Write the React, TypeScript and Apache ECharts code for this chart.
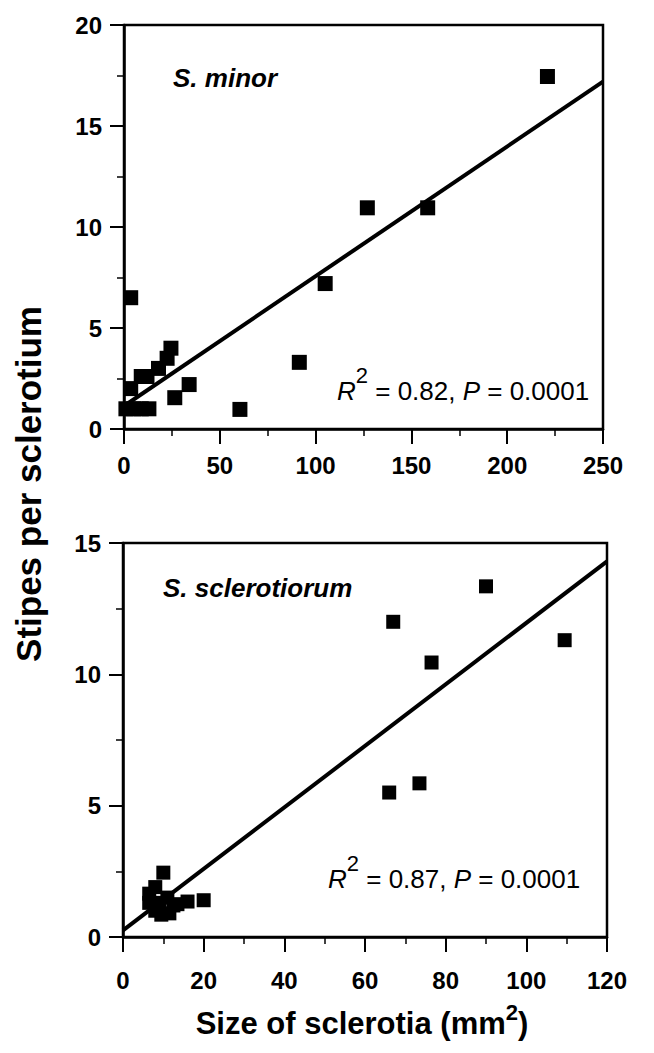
import React, { useEffect, useRef } from "react";
import * as echarts from "echarts";

// ---- Data: S. minor (top panel) ----
const minorSize = [1, 5, 9, 13, 3.5, 9, 12, 18, 22.5, 24.5, 26.5, 34, 3.5, 60.5, 91.5, 105, 127, 158.5, 221];
const minorStipes = [1.0, 1.0, 1.0, 1.0, 2.0, 2.6, 2.6, 3.0, 3.5, 4.0, 1.55, 2.2, 6.5, 0.97, 3.3, 7.2, 10.95, 10.95, 17.45];
const minorFitX = [0, 250];
const minorFitY = [1.14, 17.2];

// ---- Data: S. sclerotiorum (bottom panel) ----
const sclerSize = [6.5, 6.5, 8, 8, 9.5, 11.5, 12.5, 11, 9, 13.5, 16, 20, 10, 66, 73.5, 67, 76.5, 90, 109.5];
const sclerStipes = [1.3, 1.65, 1.9, 1.0, 0.85, 0.9, 1.2, 1.5, 1.3, 1.25, 1.35, 1.4, 2.45, 5.5, 5.85, 12.0, 10.45, 13.35, 11.3];
const sclerFitX = [0, 120];
const sclerFitY = [0.25, 14.3];

// ---- Axis ticks ----
const topXTicks = { min: 0, max: 250, interval: 50 };
const topYTicks = { min: 0, max: 20, interval: 5 };
const botXTicks = { min: 0, max: 120, interval: 20 };
const botYTicks = { min: 0, max: 15, interval: 5 };

const minorLabel = "S. minor";
const sclerLabel = "S. sclerotiorum";
const minorStats = ["0.82", "0.0001"];
const sclerStats = ["0.87", "0.0001"];
const xTitle = "Size of sclerotia (mm";
const yTitle = "Stipes per sclerotium";

const FONT = "'Liberation Sans', Arial, Helvetica, sans-serif";

function pairs(xs: number[], ys: number[]) {
  return xs.map((x, i) => [x, ys[i]]);
}

function xAxis(gridIndex: number, t: { min: number; max: number; interval: number }, margin: number) {
  return {
    type: "value",
    gridIndex,
    min: t.min,
    max: t.max,
    interval: t.interval,
    axisLine: { show: true, onZero: false, lineStyle: { color: "#000", width: 2.5 } },
    axisTick: { show: true, inside: false, length: 15, lineStyle: { color: "#000", width: 2 } },
    minorTick: { show: true, splitNumber: 2, length: 7, lineStyle: { color: "#000", width: 1.5 } },
    splitLine: { show: false },
    minorSplitLine: { show: false },
    axisLabel: { color: "#000", fontSize: 24, fontWeight: "bold", fontFamily: FONT, margin },
  };
}

function yAxis(gridIndex: number, t: { min: number; max: number; interval: number }) {
  return {
    type: "value",
    gridIndex,
    min: t.min,
    max: t.max,
    interval: t.interval,
    axisLine: { show: true, onZero: false, lineStyle: { color: "#000", width: 2.5 } },
    axisTick: { show: true, inside: false, length: 14, lineStyle: { color: "#000", width: 2 } },
    minorTick: { show: true, splitNumber: 2, length: 7, lineStyle: { color: "#000", width: 1.5 } },
    splitLine: { show: false },
    minorSplitLine: { show: false },
    axisLabel: { color: "#000", fontSize: 24, fontWeight: "bold", fontFamily: FONT, margin: 22 },
  };
}

function statsText(x: number, y: number, vals: string[]) {
  return {
    type: "text",
    left: x,
    top: y,
    style: {
      text: `{i|R}{s|2}{n| = ${vals[0]}, }{i|P}{n| = ${vals[1]}}`,
      fill: "#000",
      font: `26px ${FONT}`,
      rich: {
        i: { fontSize: 26, fontStyle: "italic", fontFamily: FONT, lineHeight: 30, verticalAlign: "bottom", fill: "#000" },
        n: { fontSize: 26, fontFamily: FONT, lineHeight: 30, verticalAlign: "bottom", fill: "#000" },
        s: { fontSize: 22, fontFamily: FONT, lineHeight: 30, verticalAlign: "bottom", padding: [0, 0, 18, 0], fill: "#000" },
      },
    },
  };
}

export default function App() {
  const ref = useRef<HTMLDivElement>(null);
  useEffect(() => {
    if (!ref.current) return;
    const chart = echarts.init(ref.current, undefined, { renderer: "svg" });
    const option = {
      animation: false,
      backgroundColor: "#fff",
      grid: [
        { left: 124, top: 25, width: 479, height: 404, show: true, borderColor: "#000", borderWidth: 2.5, backgroundColor: "transparent" },
        { left: 123, top: 543, width: 484, height: 394, show: true, borderColor: "#000", borderWidth: 2.5, backgroundColor: "transparent" },
      ],
      xAxis: [xAxis(0, topXTicks, 24), xAxis(1, botXTicks, 31)],
      yAxis: [yAxis(0, topYTicks), yAxis(1, botYTicks)],
      series: [
        {
          type: "line",
          xAxisIndex: 0,
          yAxisIndex: 0,
          data: pairs(minorFitX, minorFitY),
          showSymbol: false,
          lineStyle: { color: "#000", width: 4 },
          z: 2,
        },
        {
          type: "scatter",
          xAxisIndex: 0,
          yAxisIndex: 0,
          data: pairs(minorSize, minorStipes),
          symbol: "rect",
          symbolSize: 15,
          itemStyle: { color: "#000", opacity: 1 },
          z: 3,
        },
        {
          type: "line",
          xAxisIndex: 1,
          yAxisIndex: 1,
          data: pairs(sclerFitX, sclerFitY),
          showSymbol: false,
          lineStyle: { color: "#000", width: 4 },
          z: 2,
        },
        {
          type: "scatter",
          xAxisIndex: 1,
          yAxisIndex: 1,
          data: pairs(sclerSize, sclerStipes),
          symbol: "rect",
          symbolSize: 14,
          itemStyle: { color: "#000", opacity: 1 },
          z: 3,
        },
      ],
      graphic: [
        {
          type: "text",
          left: 173,
          top: 65,
          style: { text: minorLabel, fill: "#000", font: `italic bold 26px ${FONT}` },
        },
        {
          type: "text",
          left: 163,
          top: 575,
          style: { text: sclerLabel, fill: "#000", font: `italic bold 26px ${FONT}` },
        },
        statsText(337, 364, minorStats),
        statsText(328, 852, sclerStats),
        {
          type: "text",
          x: 362,
          y: 1021,
          style: {
            text: `{t|${xTitle}}{s|2}{t|)}`,
            align: "center",
            verticalAlign: "middle",
            fill: "#000",
            rich: {
              t: { fontSize: 31, fontWeight: "bold", fontFamily: FONT, lineHeight: 36, verticalAlign: "bottom", fill: "#000" },
              s: { fontSize: 22, fontWeight: "bold", fontFamily: FONT, lineHeight: 36, verticalAlign: "bottom", padding: [0, 0, 16, 0], fill: "#000" },
            },
          },
        },
        {
          type: "text",
          x: 28,
          y: 484,
          rotation: Math.PI / 2,
          style: {
            text: yTitle,
            align: "center",
            verticalAlign: "middle",
            fill: "#000",
            font: `bold 35px ${FONT}`,
          },
        },
      ],
    };
    chart.setOption(option as any);
    return () => chart.dispose();
  }, []);
  return <div ref={ref} style={{ position: "absolute", left: 0, top: 0, width: 654, height: 1053 }} />;
}
